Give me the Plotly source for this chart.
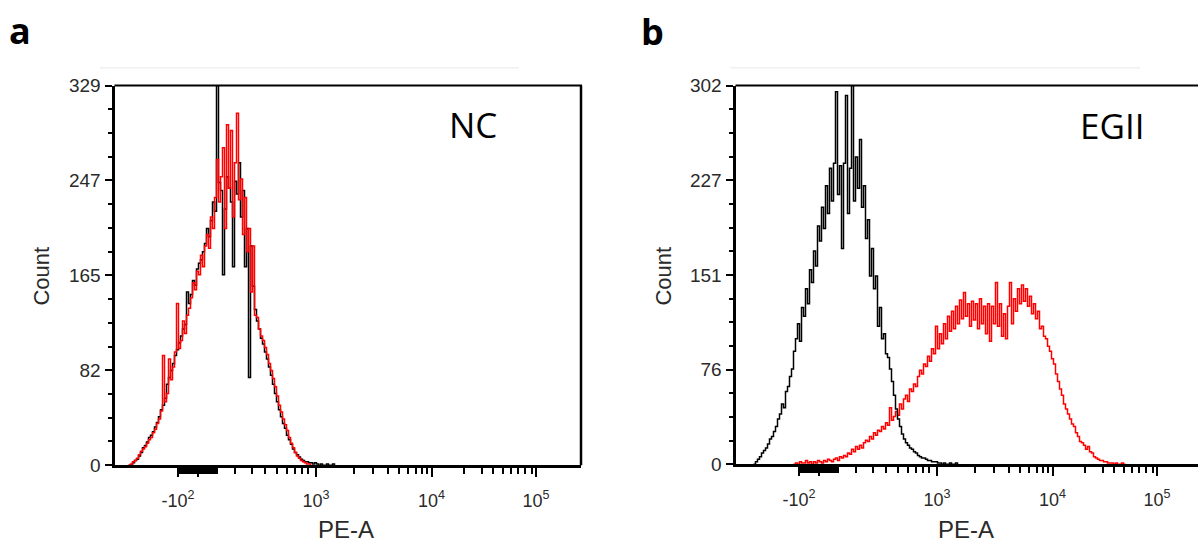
import plotly.graph_objects as go

# ---------------- data (counts per display channel, bin width 2) ----------------
BIN = 2
a_black_start = 14
a_black = [0, 0, 2, 4, 5, 8, 11, 15, 17, 20, 24, 26, 29, 33, 37, 42, 48, 52, 58, 70,
           76, 82, 88, 95, 100, 106, 112, 118, 122, 150, 140, 148, 160, 156, 170, 175, 178, 185, 192, 205,
           198, 212, 228, 220, 329, 245, 238, 165, 222, 250, 240, 228, 172, 246, 235, 262, 215, 238, 172, 205,
           76, 190, 155, 135, 125, 118, 110, 105, 98, 92, 85, 78, 70, 62, 55, 48, 42, 36, 32, 26,
           22, 18, 14, 11, 9, 7, 5, 4, 3, 3, 2, 2, 1, 2, 1, 0, 1, 0, 0, 1, 0, 0, 1, 0]
a_red_start = 14
a_red = [0, 1, 3, 4, 6, 9, 12, 14, 16, 19, 22, 24, 28, 31, 36, 40, 47, 95, 55, 62,
         92, 74, 85, 98, 140, 101, 108, 125, 114, 130, 136, 145, 158, 152, 168, 165, 182, 172, 190, 200,
         188, 215, 205, 232, 265, 228, 250, 275, 205, 295, 240, 290, 215, 262, 305, 230, 248, 200, 232, 185,
         205, 150, 190, 130, 128, 118, 112, 108, 102, 96, 88, 82, 75, 68, 60, 52, 46, 40, 35, 30,
         24, 19, 15, 11, 8, 6, 4, 3, 2, 1, 1, 0]

b_black_start = 18
b_black = [0, 2, 4, 6, 9, 11, 13, 16, 20, 22, 26, 30, 36, 40, 48, 45, 58, 62, 70, 76, 90,
           100, 112, 98, 125, 118, 140, 128, 155, 145, 170, 158, 190, 178, 205, 188, 222, 200, 236, 210, 240,
           297, 215, 238, 172, 240, 294, 200, 236, 302, 210, 245, 220, 259, 205, 222, 180, 195, 150, 172, 140,
           150, 110, 125, 100, 104, 88,
           85, 76, 66, 55, 44, 36, 30, 24, 20, 17, 15, 13, 12, 10, 9, 7, 6, 5, 5, 4,
           3, 3, 2, 2, 2, 1, 1, 0, 1, 0, 0, 1, 0, 0, 1, 0]
b_red_start = 58
b_red = [0, 1, 0, 2, 1, 1, 3, 1, 2, 0, 2, 1, 3, 2, 1, 3, 2, 4, 3, 2, 4,
         5, 3, 6, 5, 7, 6, 9, 8, 12, 10, 14, 12, 15, 13, 17, 19, 18, 22, 20, 25,
         23, 27, 26, 30, 28, 33, 31, 45, 35, 38, 42, 39, 48, 44, 52, 55, 50, 60, 58, 64,
         62, 70, 75, 72, 80, 78, 86, 82, 92, 88,
         110, 92, 104, 96, 112, 100, 118, 106, 122, 108, 126, 112, 131, 116, 137, 118, 128, 110, 130, 115,
         128, 108, 132, 112, 126, 104, 128, 98, 126, 112, 145, 110, 128, 102, 120, 100, 126, 145, 112, 132,
         122, 140, 128, 143, 130, 140, 126, 134, 120, 128, 116, 122, 108,
         110, 102, 100, 94, 90, 84, 80, 72, 66, 60, 55, 48, 44, 40, 36, 32, 30, 25, 22, 18,
         17, 15, 12, 14, 10, 9, 6, 5, 4, 3, 3, 2, 2, 1, 1, 1, 0, 1, 0, 0, 1, 0, 0]

a_ymax = 329
b_ymax = 302
y_tick_text_a = ["0", "82", "165", "247", "329"]
y_tick_text_b = ["0", "76", "151", "227", "302"]
x_tick_text = ["-10<sup>2</sup>", "", "", "10<sup>3</sup>", "10<sup>4</sup>", "10<sup>5</sup>"]

# ---------------- figure ----------------
W, H = 1198, 556
LW = 1.5

def chan(start, vals):
    return [start + BIN * i for i in range(len(vals))]

fig = go.Figure()
fig.add_trace(go.Scatter(x=chan(a_black_start, a_black), y=a_black, mode="lines",
                         line=dict(color="#000000", width=LW, shape="hv"), xaxis="x", yaxis="y"))
fig.add_trace(go.Scatter(x=chan(a_red_start, a_red), y=a_red, mode="lines",
                         line=dict(color="#ff0000", width=LW, shape="hv"), xaxis="x", yaxis="y"))
fig.add_trace(go.Scatter(x=chan(b_red_start, b_red), y=b_red, mode="lines",
                         line=dict(color="#ff0000", width=LW, shape="hv"), xaxis="x2", yaxis="y2"))
fig.add_trace(go.Scatter(x=chan(b_black_start, b_black), y=b_black, mode="lines",
                         line=dict(color="#000000", width=LW, shape="hv"), xaxis="x2", yaxis="y2"))

def px(x):
    return x / W

def py(y):
    return 1 - y / H

# tick positions in display-channel units
major_x = [63.5, 83, 102, 201.5, 317, 421.5]
minor_x = [63.5 + k * 38.5 / 20 for k in range(21)]
minor_x += [120, 137, 150, 162, 172, 180, 187, 193]
minor_x += [239, 258, 273, 284, 293, 301, 307, 312]
minor_x += [349, 367, 378, 388, 396, 403, 410, 417]

tickfont_x = dict(family="Liberation Sans, Arial, sans-serif", size=18, color="#2a2a2a")
tickfont_y = dict(family="Liberation Sans, Arial, sans-serif", size=19, color="#2a2a2a")

def xaxis(dom, rng, anchor):
    return dict(domain=dom, range=rng, anchor=anchor, showgrid=False, zeroline=False,
                showline=True, linecolor="#000", linewidth=3, mirror=False,
                tickmode="array", tickvals=major_x, ticktext=x_tick_text,
                ticks="outside", ticklen=9, tickwidth=2, tickcolor="#000",
                tickfont=tickfont_x, ticklabelstandoff=8,
                minor=dict(tickmode="array", tickvals=minor_x, ticks="outside",
                           ticklen=6, tickwidth=1.5, tickcolor="#000", showgrid=False))

def yaxis(dom, ymax, labels, anchor):
    step = ymax / 4
    return dict(domain=dom, range=[0, ymax], anchor=anchor, showgrid=False, zeroline=False,
                showline=True, linecolor="#000", linewidth=3,
                tickmode="array", tickvals=[step * k for k in range(5)], ticktext=labels,
                ticks="outside", ticklen=7, tickwidth=2, tickcolor="#000",
                tickfont=tickfont_y,
                minor=dict(tickmode="linear", tick0=0, dtick=ymax / 16, ticks="outside",
                           ticklen=4, tickwidth=1.5, tickcolor="#000", showgrid=False))

a_x0, a_x1 = 114.5, 581
b_x0 = 735.5
y_top = 78.5
a_bot, b_bot = 473, 472

fig.update_layout(
    width=W, height=H, margin=dict(l=0, r=0, t=0, b=0),
    paper_bgcolor="white", plot_bgcolor="white", showlegend=False,
    xaxis=xaxis([px(a_x0), px(a_x1)], [0, a_x1 - a_x0], "y"),
    yaxis=yaxis([py(a_bot), py(y_top)], a_ymax, y_tick_text_a, "x"),
    xaxis2=xaxis([px(b_x0), 1.0], [0, W - b_x0], "y2"),
    yaxis2=yaxis([py(b_bot), py(y_top)], b_ymax, y_tick_text_b, "x2"),
)

shapes = []
# top / right borders
shapes.append(dict(type="line", xref="paper", yref="paper", x0=px(a_x0), x1=px(a_x1 + 1),
                   y0=py(y_top), y1=py(y_top), line=dict(color="#000", width=2)))
shapes.append(dict(type="line", xref="paper", yref="paper", x0=px(a_x1), x1=px(a_x1),
                   y0=py(y_top), y1=py(a_bot), line=dict(color="#000", width=2.5)))
shapes.append(dict(type="line", xref="paper", yref="paper", x0=px(b_x0), x1=1.0,
                   y0=py(y_top), y1=py(y_top), line=dict(color="#000", width=2)))
# faint separator lines above panels
shapes.append(dict(type="line", xref="paper", yref="paper", x0=px(100), x1=px(519),
                   y0=py(60), y1=py(60), line=dict(color="#f0f0f0", width=1.5)))
shapes.append(dict(type="line", xref="paper", yref="paper", x0=px(730), x1=px(1140),
                   y0=py(60), y1=py(60), line=dict(color="#f0f0f0", width=1.5)))
fig.update_layout(shapes=shapes)

lab = dict(family="Liberation Sans, Arial, sans-serif", size=22, color="#2a2a2a")
ann = []
for xc in (42, 664):
    ann.append(dict(text="Count", x=px(xc), y=py(277), xref="paper", yref="paper",
                    showarrow=False, textangle=-90, font=lab, xanchor="center", yanchor="middle"))
for xc in (346, 966):
    ann.append(dict(text="PE-A", x=px(xc), y=py(540), xref="paper", yref="paper",
                    showarrow=False, font=dict(lab, size=24), xanchor="center", yanchor="middle"))
big = dict(family="Open Sans, Noto Sans, sans-serif", size=35, color="#000")
ann.append(dict(text="NC", x=px(473), y=py(119), xref="paper", yref="paper",
                showarrow=False, font=big, xanchor="center", yanchor="middle"))
ann.append(dict(text="EGII", x=px(1112), y=py(120), xref="paper", yref="paper",
                showarrow=False, font=big, xanchor="center", yanchor="middle"))
ttl = dict(family="Open Sans, Noto Sans, sans-serif", size=36, color="#000")
ann.append(dict(text="<b>a</b>", x=px(20), y=py(21), xref="paper", yref="paper",
                showarrow=False, font=ttl, xanchor="center", yanchor="middle"))
ann.append(dict(text="<b>b</b>", x=px(652), y=py(22), xref="paper", yref="paper",
                showarrow=False, font=ttl, xanchor="center", yanchor="middle"))
fig.update_layout(annotations=ann)

fig.write_html("out.html")
